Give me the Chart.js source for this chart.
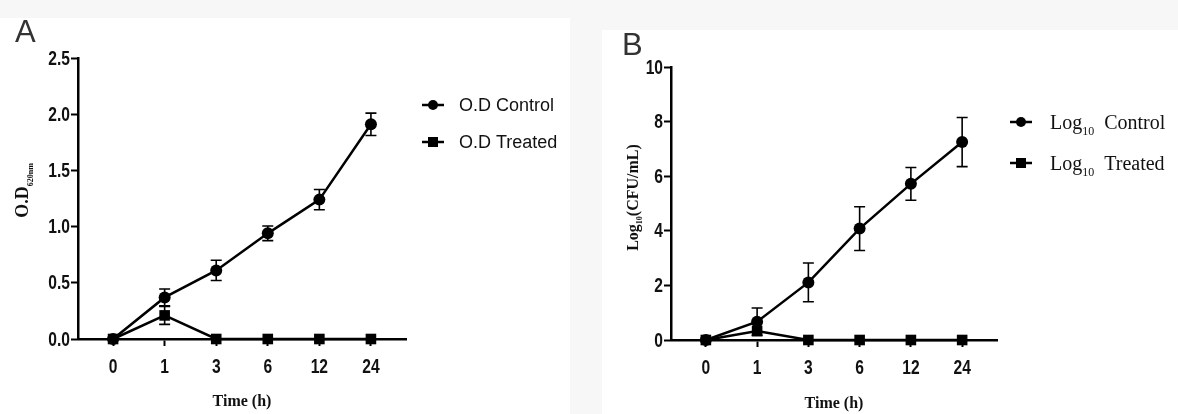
<!DOCTYPE html>
<html>
<head>
<meta charset="utf-8">
<script src="https://cdn.jsdelivr.net/npm/chart.js@4.4.1/dist/chart.umd.min.js"></script>
<style>
  html, body { margin: 0; padding: 0; background: #f7f7f7; }
  body { width: 1178px; height: 414px; position: relative; overflow: hidden; }
  .bg { position: absolute; background: #fff; }
  .wrap { position: absolute; top: 0; height: 414px; }
  #wa { left: 0; width: 580px; }
  #wb { left: 590px; width: 588px; }
</style>
</head>
<body>
<div class="bg" style="left:0;top:18px;width:570px;height:396px"></div>
<div class="bg" style="left:602px;top:30px;width:576px;height:384px"></div>
<div class="wrap" id="wa"><canvas id="chartA"></canvas></div>
<div class="wrap" id="wb"><canvas id="chartB"></canvas></div>
<script>
const TIMES = ["0", "1", "3", "6", "12", "24"];

const OD_CONTROL = [0, 0.37, 0.61, 0.94, 1.24, 1.91];
const OD_CONTROL_ERR = [0, 0.075, 0.09, 0.065, 0.09, 0.1];
const OD_TREATED = [0, 0.21, 0, 0, 0, 0];
const OD_TREATED_ERR = [0, 0.08, 0, 0, 0, 0];

const LOG_CONTROL = [0, 0.67, 2.11, 4.08, 5.72, 7.25];
const LOG_CONTROL_ERR = [0, 0.5, 0.71, 0.8, 0.6, 0.9];
const LOG_TREATED = [0, 0.33, 0, 0, 0, 0];
const LOG_TREATED_ERR = [0, 0, 0, 0, 0, 0];

const LEGEND_A = ["O.D Control", "O.D Treated"];
const LEGEND_B = ["Log_{10}  Control", "Log_{10}  Treated"];

const SERIF = '"Liberation Serif", "Times New Roman", serif';
const SANS = '"Liberation Sans", Arial, sans-serif';

// split "Log_{10}(CFU/mL)" into plain / subscript pieces
function parseRich(s) {
  const out = [];
  const re = /_\{([^}]*)\}/g;
  let last = 0, m;
  while ((m = re.exec(s))) {
    if (m.index > last) out.push({ t: s.slice(last, m.index), sub: false });
    out.push({ t: m[1], sub: true });
    last = re.lastIndex;
  }
  if (last < s.length) out.push({ t: s.slice(last), sub: false });
  return out;
}

function drawRich(ctx, text, x, y, f, align, rotate) {
  const parts = parseRich(text);
  const subSize = Math.round(f.size * (f.sub || 0.58));
  const fontOf = (p) => `${f.weight || "normal"} ${p.sub ? subSize : f.size}px ${f.family}`;
  let total = 0;
  parts.forEach((p) => { ctx.font = fontOf(p); p.w = ctx.measureText(p.t).width; total += p.w; });
  ctx.save();
  ctx.translate(x, y);
  if (rotate) ctx.rotate(-Math.PI / 2);
  ctx.fillStyle = f.color || "#000";
  ctx.textBaseline = "alphabetic";
  ctx.textAlign = "left";
  let cx = align === "center" ? -total / 2 : 0;
  const base = f.size * 0.35;
  parts.forEach((p) => {
    ctx.font = fontOf(p);
    ctx.fillText(p.t, cx, base + (p.sub ? f.size * 0.28 : 0));
    cx += p.w;
  });
  ctx.restore();
}

// narrow bold tick text (the figure uses a condensed face)
function tickText(ctx, s, x, y, align) {
  ctx.save();
  ctx.translate(x, y);
  ctx.scale(0.78, 1);
  ctx.font = `bold 20px ${SANS}`;
  ctx.fillStyle = "#111";
  ctx.textAlign = align;
  ctx.textBaseline = "middle";
  ctx.fillText(s, 0, 1);
  ctx.restore();
}

const decor = {
  id: "decor",
  beforeDatasetsDraw(chart, args, o) {
    const { ctx } = chart;
    const y = chart.scales.y, x = chart.scales.x;
    ctx.save();
    ctx.strokeStyle = "#000";
    ctx.lineWidth = 1.6;
    chart.data.datasets.forEach((ds) => {
      (ds.errors || []).forEach((e, i) => {
        if (!e) return;
        const px = x.getPixelForValue(i);
        const top = y.getPixelForValue(ds.data[i].y + e);
        const bot = y.getPixelForValue(ds.data[i].y - e);
        ctx.beginPath();
        ctx.moveTo(px, top); ctx.lineTo(px, bot);
        ctx.moveTo(px - 5.5, top); ctx.lineTo(px + 5.5, top);
        ctx.moveTo(px - 5.5, bot); ctx.lineTo(px + 5.5, bot);
        ctx.stroke();
      });
    });
    ctx.restore();
  },
  afterDraw(chart, args, o) {
    const { ctx, chartArea: a } = chart;
    const xs = chart.scales.x, ys = chart.scales.y;
    // tick labels
    xs.ticks.forEach((t) => tickText(ctx, TIMES[t.value], xs.getPixelForValue(t.value), a.bottom + 27, "center"));
    ys.ticks.forEach((t) => tickText(ctx, o.yFmt(t.value), a.left - 8, ys.getPixelForValue(t.value), "right"));
    // panel letter
    ctx.save();
    ctx.font = `31px ${SANS}`;
    ctx.fillStyle = "#333";
    ctx.textBaseline = "alphabetic";
    ctx.fillText(o.letter, o.letterX, o.letterY);
    ctx.restore();
    // axis titles
    drawRich(ctx, "Time (h)", (a.left + a.right) / 2, a.bottom + o.xTitleGap, { size: 16, weight: "bold", family: SERIF, color: "#111" }, "center", false);
    drawRich(ctx, o.yTitle, a.left - o.yTitleGap, (a.top + a.bottom) / 2 + o.yTitleShift, o.yTitleFont, "center", true);
    // legend
    chart.data.datasets.forEach((ds, i) => {
      const cx = a.right + o.legX;
      const cy = a.top + o.legY + i * o.legStep;
      ctx.save();
      ctx.strokeStyle = "#000";
      ctx.lineWidth = 2.5;
      ctx.beginPath(); ctx.moveTo(cx - 11, cy); ctx.lineTo(cx + 11, cy); ctx.stroke();
      ctx.fillStyle = "#000";
      if (ds.pointStyle === "rect") ctx.fillRect(cx - 5, cy - 5, 10, 10);
      else { ctx.beginPath(); ctx.arc(cx, cy, 5, 0, Math.PI * 2); ctx.fill(); }
      ctx.restore();
      drawRich(ctx, o.legend[i], cx + o.legText, cy, o.legFont, "left", false);
    });
  },
};

function series(label, vals, errs, style) {
  return {
    label,
    data: vals.map((v, i) => ({ x: i, y: v })),
    errors: errs,
    clip: false,
    borderColor: "#000",
    backgroundColor: "#000",
    borderWidth: 2.5,
    pointStyle: style,
    pointRadius: style === "rect" ? 7.5 : 6,
    pointBackgroundColor: "#000",
    pointBorderWidth: 0,
    tension: 0,
  };
}

function makeChart(id, cfg) {
  return new Chart(document.getElementById(id), {
    type: "line",
    data: {
      datasets: [
        series(cfg.legend[0], cfg.control, cfg.controlErr, "circle"),
        series(cfg.legend[1], cfg.treated, cfg.treatedErr, "rect"),
      ],
    },
    options: {
      responsive: true, maintainAspectRatio: false, animation: false,
      layout: { autoPadding: false, padding: { left: 0, top: cfg.top, right: cfg.right, bottom: 0 } },
      plugins: {
        legend: { display: false },
        tooltip: { enabled: false },
        decor: Object.assign({ yFmt: cfg.yFmt }, cfg.decor),
      },
      scales: {
        x: {
          type: "linear", min: -0.68, max: 5.68,
          afterBuildTicks: (s) => { s.ticks = TIMES.map((_, i) => ({ value: i })); },
          afterFit: (s) => { s.height = cfg.xHeight; },
          ticks: { display: false },
          grid: { drawOnChartArea: false, drawTicks: true, tickLength: 7, tickColor: "#000", tickWidth: 2 },
          border: { display: true, color: "#000", width: 2.5 },
        },
        y: {
          min: 0, max: cfg.yMax,
          afterFit: (s) => { s.width = cfg.yWidth; },
          ticks: { display: false, stepSize: cfg.yStep },
          grid: { drawOnChartArea: false, drawTicks: true, tickLength: 7, tickColor: "#000", tickWidth: 2 },
          border: { display: true, color: "#000", width: 2.5 },
        },
      },
    },
    plugins: [decor],
  });
}

makeChart("chartA", {
  legend: LEGEND_A,
  control: OD_CONTROL, controlErr: OD_CONTROL_ERR,
  treated: OD_TREATED, treatedErr: OD_TREATED_ERR,
  top: 58, right: 174, xHeight: 75, yWidth: 78,
  yMax: 2.5, yStep: 0.5, yFmt: (v) => v.toFixed(1),
  decor: {
    letter: "A", letterX: 15, letterY: 42,
    yTitle: "O.D_{620nm}", yTitleGap: 56, yTitleShift: -8, xTitleGap: 61,
    yTitleFont: { size: 18, sub: 0.45, weight: "bold", family: SERIF, color: "#111" },
    legend: LEGEND_A, legX: 27, legY: 47, legStep: 37, legText: 26,
    legFont: { size: 18, family: SANS, color: "#111" },
  },
});

makeChart("chartB", {
  legend: LEGEND_B,
  control: LOG_CONTROL, controlErr: LOG_CONTROL_ERR,
  treated: LOG_TREATED, treatedErr: LOG_TREATED_ERR,
  top: 67, right: 181, xHeight: 74, yWidth: 81,
  yMax: 10, yStep: 2, yFmt: (v) => String(v),
  decor: {
    letter: "B", letterX: 32, letterY: 55,
    yTitle: "Log_{10}(CFU/mL)", yTitleGap: 39, yTitleShift: -6, xTitleGap: 62,
    yTitleFont: { size: 16, sub: 0.5, weight: "bold", family: SERIF, color: "#111" },
    legend: LEGEND_B, legX: 24, legY: 55, legStep: 41, legText: 29,
    legFont: { size: 20, family: SERIF, color: "#111" },
  },
});
</script>
</body>
</html>
